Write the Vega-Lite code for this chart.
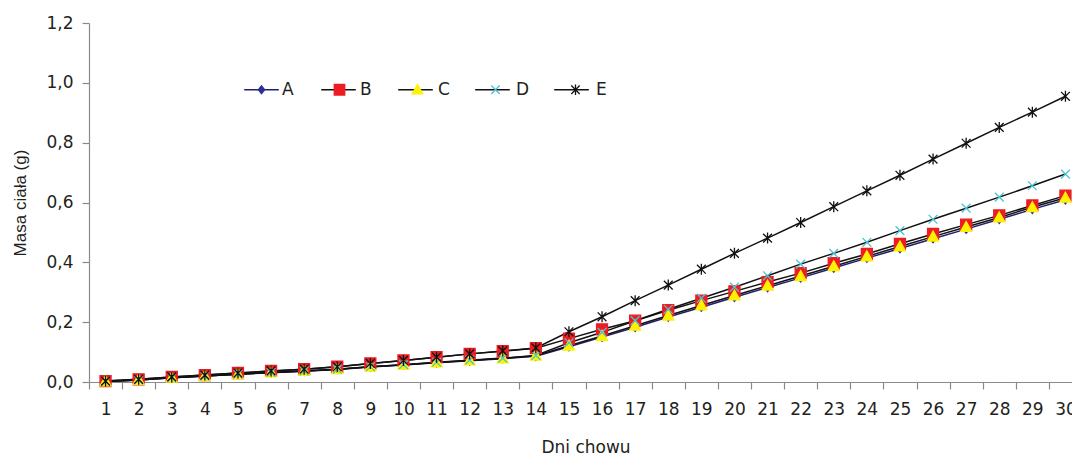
{
  "$schema": "https://vega.github.io/schema/vega-lite/v6.json",
  "autosize": "none",
  "width": 983,
  "height": 359,
  "padding": {"left": 89, "top": 23, "right": 0, "bottom": 75},
  "background": "white",
  "config": {
    "view": {"stroke": null},
    "font": "DejaVu Sans",
    "axis": {"grid": false, "domainColor": "#8a8a8a", "tickColor": "#8a8a8a", "labelColor": "#231f20", "titleColor": "#231f20", "labelFont": "DejaVu Sans", "titleFont": "DejaVu Sans", "titleFontWeight": "normal", "labelFontSize": 17, "titleFontSize": 17, "tickSize": 7, "domainWidth": 1.2, "tickWidth": 1.2},
    "legend": {"labelFont": "DejaVu Sans", "labelFontSize": 17, "labelColor": "#231f20"}
  },
  "data": {"values": [
    {"day":1,"grupa":"A","masa":0.002},{"day":2,"grupa":"A","masa":0.007},{"day":3,"grupa":"A","masa":0.014},{"day":4,"grupa":"A","masa":0.020},{"day":5,"grupa":"A","masa":0.026},{"day":6,"grupa":"A","masa":0.031},{"day":7,"grupa":"A","masa":0.036},{"day":8,"grupa":"A","masa":0.042},{"day":9,"grupa":"A","masa":0.050},{"day":10,"grupa":"A","masa":0.057},{"day":11,"grupa":"A","masa":0.064},{"day":12,"grupa":"A","masa":0.071},{"day":13,"grupa":"A","masa":0.078},{"day":14,"grupa":"A","masa":0.086},{"day":15,"grupa":"A","masa":0.118},{"day":16,"grupa":"A","masa":0.150},{"day":17,"grupa":"A","masa":0.183},{"day":18,"grupa":"A","masa":0.217},{"day":19,"grupa":"A","masa":0.250},{"day":20,"grupa":"A","masa":0.283},{"day":21,"grupa":"A","masa":0.316},{"day":22,"grupa":"A","masa":0.348},{"day":23,"grupa":"A","masa":0.381},{"day":24,"grupa":"A","masa":0.414},{"day":25,"grupa":"A","masa":0.446},{"day":26,"grupa":"A","masa":0.479},{"day":27,"grupa":"A","masa":0.511},{"day":28,"grupa":"A","masa":0.544},{"day":29,"grupa":"A","masa":0.577},{"day":30,"grupa":"A","masa":0.609},
    {"day":1,"grupa":"B","masa":0.003},{"day":2,"grupa":"B","masa":0.009},{"day":3,"grupa":"B","masa":0.017},{"day":4,"grupa":"B","masa":0.023},{"day":5,"grupa":"B","masa":0.030},{"day":6,"grupa":"B","masa":0.037},{"day":7,"grupa":"B","masa":0.043},{"day":8,"grupa":"B","masa":0.051},{"day":9,"grupa":"B","masa":0.062},{"day":10,"grupa":"B","masa":0.072},{"day":11,"grupa":"B","masa":0.083},{"day":12,"grupa":"B","masa":0.094},{"day":13,"grupa":"B","masa":0.103},{"day":14,"grupa":"B","masa":0.113},{"day":15,"grupa":"B","masa":0.145},{"day":16,"grupa":"B","masa":0.176},{"day":17,"grupa":"B","masa":0.205},{"day":18,"grupa":"B","masa":0.240},{"day":19,"grupa":"B","masa":0.272},{"day":20,"grupa":"B","masa":0.303},{"day":21,"grupa":"B","masa":0.334},{"day":22,"grupa":"B","masa":0.364},{"day":23,"grupa":"B","masa":0.397},{"day":24,"grupa":"B","masa":0.428},{"day":25,"grupa":"B","masa":0.462},{"day":26,"grupa":"B","masa":0.495},{"day":27,"grupa":"B","masa":0.526},{"day":28,"grupa":"B","masa":0.557},{"day":29,"grupa":"B","masa":0.590},{"day":30,"grupa":"B","masa":0.623},
    {"day":1,"grupa":"C","masa":0.002},{"day":2,"grupa":"C","masa":0.007},{"day":3,"grupa":"C","masa":0.014},{"day":4,"grupa":"C","masa":0.020},{"day":5,"grupa":"C","masa":0.026},{"day":6,"grupa":"C","masa":0.032},{"day":7,"grupa":"C","masa":0.037},{"day":8,"grupa":"C","masa":0.043},{"day":9,"grupa":"C","masa":0.051},{"day":10,"grupa":"C","masa":0.058},{"day":11,"grupa":"C","masa":0.065},{"day":12,"grupa":"C","masa":0.072},{"day":13,"grupa":"C","masa":0.079},{"day":14,"grupa":"C","masa":0.088},{"day":15,"grupa":"C","masa":0.121},{"day":16,"grupa":"C","masa":0.154},{"day":17,"grupa":"C","masa":0.188},{"day":18,"grupa":"C","masa":0.222},{"day":19,"grupa":"C","masa":0.256},{"day":20,"grupa":"C","masa":0.289},{"day":21,"grupa":"C","masa":0.322},{"day":22,"grupa":"C","masa":0.354},{"day":23,"grupa":"C","masa":0.387},{"day":24,"grupa":"C","masa":0.420},{"day":25,"grupa":"C","masa":0.453},{"day":26,"grupa":"C","masa":0.486},{"day":27,"grupa":"C","masa":0.518},{"day":28,"grupa":"C","masa":0.550},{"day":29,"grupa":"C","masa":0.584},{"day":30,"grupa":"C","masa":0.616},
    {"day":1,"grupa":"D","masa":0.002},{"day":2,"grupa":"D","masa":0.007},{"day":3,"grupa":"D","masa":0.014},{"day":4,"grupa":"D","masa":0.020},{"day":5,"grupa":"D","masa":0.026},{"day":6,"grupa":"D","masa":0.032},{"day":7,"grupa":"D","masa":0.037},{"day":8,"grupa":"D","masa":0.043},{"day":9,"grupa":"D","masa":0.051},{"day":10,"grupa":"D","masa":0.058},{"day":11,"grupa":"D","masa":0.066},{"day":12,"grupa":"D","masa":0.073},{"day":13,"grupa":"D","masa":0.080},{"day":14,"grupa":"D","masa":0.089},{"day":15,"grupa":"D","masa":0.131},{"day":16,"grupa":"D","masa":0.166},{"day":17,"grupa":"D","masa":0.205},{"day":18,"grupa":"D","masa":0.243},{"day":19,"grupa":"D","masa":0.280},{"day":20,"grupa":"D","masa":0.317},{"day":21,"grupa":"D","masa":0.355},{"day":22,"grupa":"D","masa":0.394},{"day":23,"grupa":"D","masa":0.430},{"day":24,"grupa":"D","masa":0.467},{"day":25,"grupa":"D","masa":0.506},{"day":26,"grupa":"D","masa":0.544},{"day":27,"grupa":"D","masa":0.581},{"day":28,"grupa":"D","masa":0.618},{"day":29,"grupa":"D","masa":0.656},{"day":30,"grupa":"D","masa":0.695},
    {"day":1,"grupa":"E","masa":0.003},{"day":2,"grupa":"E","masa":0.009},{"day":3,"grupa":"E","masa":0.017},{"day":4,"grupa":"E","masa":0.023},{"day":5,"grupa":"E","masa":0.030},{"day":6,"grupa":"E","masa":0.037},{"day":7,"grupa":"E","masa":0.043},{"day":8,"grupa":"E","masa":0.051},{"day":9,"grupa":"E","masa":0.062},{"day":10,"grupa":"E","masa":0.072},{"day":11,"grupa":"E","masa":0.083},{"day":12,"grupa":"E","masa":0.094},{"day":13,"grupa":"E","masa":0.104},{"day":14,"grupa":"E","masa":0.114},{"day":15,"grupa":"E","masa":0.168},{"day":16,"grupa":"E","masa":0.218},{"day":17,"grupa":"E","masa":0.272},{"day":18,"grupa":"E","masa":0.324},{"day":19,"grupa":"E","masa":0.377},{"day":20,"grupa":"E","masa":0.430},{"day":21,"grupa":"E","masa":0.481},{"day":22,"grupa":"E","masa":0.533},{"day":23,"grupa":"E","masa":0.586},{"day":24,"grupa":"E","masa":0.639},{"day":25,"grupa":"E","masa":0.691},{"day":26,"grupa":"E","masa":0.745},{"day":27,"grupa":"E","masa":0.798},{"day":28,"grupa":"E","masa":0.851},{"day":29,"grupa":"E","masa":0.902},{"day":30,"grupa":"E","masa":0.955}
  ]},
  "encoding": {
    "x": {"field": "day", "type": "ordinal", "scale": {"type": "band", "paddingInner": 0, "paddingOuter": 0, "range": [0, 993]},
      "axis": {"title": "Dni chowu", "labelAngle": 0, "tickBand": "extent", "labelPadding": 12, "titlePadding": 22}},
    "y": {"field": "masa", "type": "quantitative", "scale": {"domain": [0, 1.2], "nice": false, "zero": true},
      "axis": {"title": "Masa ciała (g)", "titleFont": "Liberation Sans", "values": [0, 0.2, 0.4, 0.6, 0.8, 1.0, 1.2], "labelExpr": "replace(format(datum.value, '.1f'), '.', ',')", "labelPadding": 9, "titlePadding": 16}}
  },
  "layer": [
    {
      "mark": {"type": "line", "strokeWidth": 1.5},
      "encoding": {
        "color": {"field": "grupa", "type": "nominal",
          "scale": {"domain": ["A", "B", "C", "D", "E"], "range": ["#1f1f6e", "#111111", "#111111", "#111111", "#111111"]},
          "legend": {"title": null, "orient": "none", "direction": "horizontal", "legendX": 164, "legendY": 58, "symbolType": "M-3.3,0L3.3,0", "symbolSize": 110, "symbolStrokeWidth": 1.3, "labelOffset": 12, "columnPadding": 24, "labelOpacity": 0}}
      }
    },
    {
      "mark": {"type": "point", "filled": true, "size": 121, "strokeWidth": 1.3, "opacity": 1},
      "encoding": {
        "shape": {"field": "grupa", "type": "nominal",
          "scale": {"range": ["M0,-0.75L0.6,0L0,0.75L-0.6,0Z", "M-1,-1L1,-1L1,1L-1,1Z", "M0,-1L1,0.8L-1,0.8Z", "M-0.8,-0.8L0.8,0.8M0.8,-0.8L-0.8,0.8", "M-0.8,-0.8L0.8,0.8M0.8,-0.8L-0.8,0.8M0,-1L0,1"]},
          "legend": {"title": null, "orient": "none", "direction": "horizontal", "legendX": 164, "legendY": 58, "symbolSize": 110, "symbolStrokeWidth": 1.3, "labelOffset": 12, "columnPadding": 37}},
        "fill": {"field": "grupa", "type": "nominal",
          "scale": {"range": ["#2e3192", "#ed1c24", "#fff200", "#4dc3cf", "#111111"]},
          "legend": {"title": null, "orient": "none", "direction": "horizontal", "legendX": 164, "legendY": 58, "symbolSize": 110, "symbolStrokeWidth": 1.3, "labelOffset": 12, "columnPadding": 37}},
        "stroke": {"field": "grupa", "type": "nominal",
          "scale": {"range": ["#2e3192", "#ed1c24", "#fff200", "#4dc3cf", "#111111"]},
          "legend": {"title": null, "orient": "none", "direction": "horizontal", "legendX": 164, "legendY": 58, "symbolSize": 110, "symbolStrokeWidth": 1.3, "labelOffset": 12, "columnPadding": 37}}
      }
    }
  ]
}
